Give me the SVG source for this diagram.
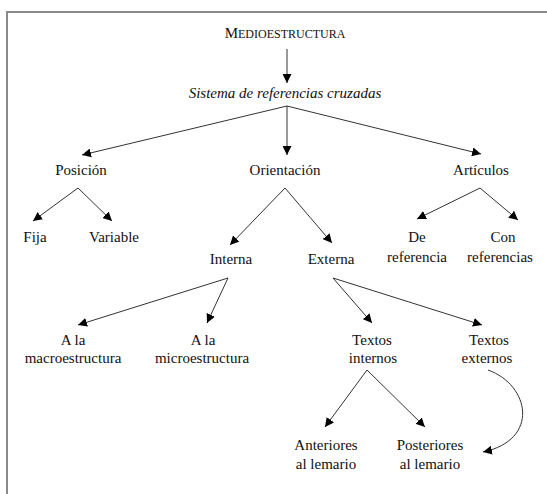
<svg xmlns="http://www.w3.org/2000/svg" width="547" height="494" viewBox="0 0 547 494">
<style>
.c{fill:none;stroke:#333;stroke-width:1}
.frame{fill:none;stroke:#8a8a8a;stroke-width:2}
</style>
<defs>
<marker id="ah" viewBox="0 0 10 10" refX="10" refY="5" markerWidth="9" markerHeight="9" markerUnits="userSpaceOnUse" orient="auto">
<path d="M0,0 L10,5 L0,10 Z" fill="#000"/>
</marker>
</defs>
<rect width="547" height="494" fill="#fff"/>
<path class="frame" d="M7,494 L7,12 L547,12"/>
<g id="connectors">
<line class="c" x1="287" y1="49" x2="287" y2="83" marker-end="url(#ah)"/>
<line class="c" x1="287" y1="106" x2="82" y2="155" marker-end="url(#ah)"/>
<line class="c" x1="287" y1="106" x2="287" y2="155" marker-end="url(#ah)"/>
<line class="c" x1="287" y1="106" x2="481" y2="154" marker-end="url(#ah)"/>
<line class="c" x1="78" y1="188" x2="33" y2="221" marker-end="url(#ah)"/>
<line class="c" x1="78" y1="188" x2="112" y2="221" marker-end="url(#ah)"/>
<line class="c" x1="285" y1="188" x2="230" y2="245" marker-end="url(#ah)"/>
<line class="c" x1="285" y1="188" x2="332" y2="243" marker-end="url(#ah)"/>
<line class="c" x1="480" y1="188" x2="417" y2="219" marker-end="url(#ah)"/>
<line class="c" x1="480" y1="188" x2="518" y2="220" marker-end="url(#ah)"/>
<line class="c" x1="228" y1="278" x2="78" y2="325" marker-end="url(#ah)"/>
<line class="c" x1="228" y1="278" x2="207" y2="323" marker-end="url(#ah)"/>
<line class="c" x1="333" y1="278" x2="372" y2="323" marker-end="url(#ah)"/>
<line class="c" x1="333" y1="278" x2="482" y2="325" marker-end="url(#ah)"/>
<line class="c" x1="367" y1="370" x2="325" y2="427" marker-end="url(#ah)"/>
<line class="c" x1="367" y1="370" x2="425" y2="427" marker-end="url(#ah)"/>
<path class="c" d="M488,370 C530,385 540,440 483,452" marker-end="url(#ah)"/>
</g>
<g font-family="Liberation Serif, Times New Roman, serif" font-size="15" fill="#111" text-anchor="middle">
<g id="n-medio"><text x="285" y="38">M<tspan font-size="12">EDIOESTRUCTURA</tspan></text></g>
<g id="n-sistema"><text x="285" y="98" font-style="italic">Sistema de referencias cruzadas</text></g>
<g id="n-posicion"><text x="81" y="175">Posición</text></g>
<g id="n-orientacion"><text x="285" y="175">Orientación</text></g>
<g id="n-articulos"><text x="481" y="175">Artículos</text></g>
<g id="n-fija"><text x="35" y="242">Fija</text></g>
<g id="n-variable"><text x="114" y="242">Variable</text></g>
<g id="n-interna"><text x="231" y="264">Interna</text></g>
<g id="n-externa"><text x="331" y="264">Externa</text></g>
<g id="n-dereferencia"><text x="417" y="242">De</text><text x="417" y="262">referencia</text></g>
<g id="n-conreferencias"><text x="503" y="242">Con</text><text x="500" y="262">referencias</text></g>
<g id="n-macro"><text x="73" y="345">A la</text><text x="73" y="363">macroestructura</text></g>
<g id="n-micro"><text x="203" y="345">A la</text><text x="202" y="363">microestructura</text></g>
<g id="n-textosint"><text x="372" y="345">Textos</text><text x="373" y="363">internos</text></g>
<g id="n-textosext"><text x="489" y="345">Textos</text><text x="487" y="363">externos</text></g>
<g id="n-anteriores"><text x="326" y="450">Anteriores</text><text x="326" y="469">al lemario</text></g>
<g id="n-posteriores"><text x="430" y="450">Posteriores</text><text x="430" y="469">al lemario</text></g>
</g>
</svg>
